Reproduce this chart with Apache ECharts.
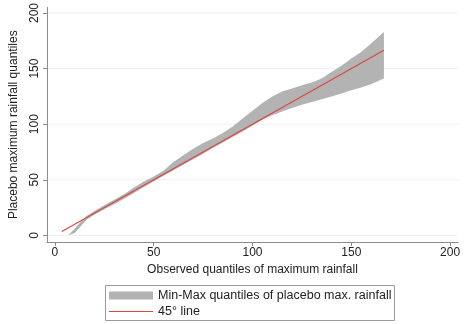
<!DOCTYPE html>
<html>
<head>
<meta charset="utf-8">
<script src="https://cdn.jsdelivr.net/npm/echarts@6/dist/echarts.min.js"></script>
<style>
  html, body { margin: 0; padding: 0; background: #fff; }
  #chart { width: 465px; height: 324px; }
</style>
</head>
<body>
<div id="chart"></div>
<script>
// Observed quantiles of maximum rainfall (x) with min / max placebo quantiles
var observedQ = [7, 10, 13, 16, 20, 25, 30, 35, 40, 45, 50, 55, 60, 65, 70, 75, 80, 85, 90, 95, 100, 105, 110, 115, 120, 125, 130, 135, 140, 145, 150, 155, 160, 166.5];
var placeboMin = [0, 2, 8, 14, 18.5, 23.5, 28, 33, 38, 43.5, 48.5, 53.5, 58.5, 63.5, 68.5, 73.5, 78.5, 83.5, 88.5, 93.5, 98.5, 104, 108, 111.5, 114.5, 117.5, 120, 122.5, 125, 127.5, 130.5, 133, 136, 141];
var placeboMax = [0.5, 6, 12, 17.5, 22, 27, 32, 37, 43, 48.5, 53, 58, 66, 72, 78, 83, 87, 92, 98, 105, 112, 119, 125, 129.5, 132, 135, 137.5, 141, 147, 152.5, 159, 165, 172.5, 183];
// 45-degree reference line endpoints
var refLine = [[3.5, 3.5], [166.5, 166.5]];
var xTicks = [0, 50, 100, 150, 200];
var yTicks = [0, 50, 100, 150, 200];

var bandName = 'Min-Max quantiles of placebo max. rainfall';
var lineName = '45\u00b0 line';

var bandData = observedQ.map(function (x, i) { return [x, placeboMin[i], placeboMax[i]]; });

var chart = echarts.init(document.getElementById('chart'), null, { renderer: 'canvas' });
var FONT = 'Liberation Sans, Arial, Helvetica, sans-serif';
var axisGray = '#8c8c8c';
var bandGray = '#b3b3b3';
var red = '#d8463e';
var legendText = { fontSize: 12.5, color: '#222', fontFamily: FONT };

chart.setOption({
  animation: false,
  textStyle: { fontFamily: FONT },
  grid: { left: 42, right: 7, top: 5, bottom: 82 },
  xAxis: {
    type: 'value', min: -4, max: 204,
    name: 'Observed quantiles of maximum rainfall',
    nameLocation: 'middle', nameGap: 21,
    nameTextStyle: { fontSize: 12, color: '#222', fontFamily: FONT },
    axisLine: { show: true, onZero: false, lineStyle: { color: axisGray, width: 1 } },
    axisTick: { show: true, length: 4, lineStyle: { color: axisGray }, customValues: xTicks },
    axisLabel: { fontSize: 12, color: '#222', margin: 5, customValues: xTicks, fontFamily: FONT },
    splitLine: { show: false }
  },
  yAxis: {
    type: 'value', min: -6, max: 205,
    name: 'Placebo maximum rainfall quantiles',
    nameLocation: 'middle', nameGap: 27, nameRotate: 90,
    nameTextStyle: { fontSize: 12, color: '#222', fontFamily: FONT },
    axisLine: { show: true, onZero: false, lineStyle: { color: axisGray, width: 1 } },
    axisTick: { show: true, length: 4, lineStyle: { color: axisGray }, customValues: yTicks },
    axisLabel: { fontSize: 12, color: '#222', rotate: 90, margin: 6, customValues: yTicks, fontFamily: FONT },
    splitLine: { show: false }
  },
  legend: [
    {
      left: 109, top: 289, padding: 0,
      itemWidth: 44, itemHeight: 8,
      textStyle: legendText,
      data: [{ name: bandName, icon: 'rect' }]
    },
    {
      left: 109, top: 305, padding: 0,
      itemWidth: 44, itemHeight: 1.2,
      textStyle: legendText,
      data: [{ name: lineName, icon: 'rect' }]
    }
  ],
  graphic: [{
    type: 'rect', left: 103, top: 283,
    shape: { width: 289, height: 35 },
    style: { fill: 'none', stroke: '#9a9a9a', lineWidth: 1 }
  }],
  series: [
    {
      // faint horizontal grid lines at the y ticks
      type: 'custom', silent: true, z: 1,
      data: yTicks.map(function (v) { return [v]; }),
      renderItem: function (params, api) {
        var y = api.coord([0, api.value(0)])[1];
        var x0 = params.coordSys.x, x1 = params.coordSys.x + params.coordSys.width;
        return { type: 'line', shape: { x1: x0 + 1, y1: y, x2: x1, y2: y }, style: { stroke: '#efefef', lineWidth: 1 } };
      }
    },
    {
      name: bandName,
      type: 'custom', z: 2,
      itemStyle: { color: bandGray },
      data: bandData,
      encode: { x: 0, y: [1, 2] },
      renderItem: function (params, api) {
        if (params.dataIndex !== 0) return null;
        var upper = [], lower = [];
        for (var i = 0; i < bandData.length; i++) {
          upper.push(api.coord([bandData[i][0], bandData[i][2]]));
          lower.push(api.coord([bandData[i][0], bandData[i][1]]));
        }
        var pts = upper.concat(lower.reverse());
        return { type: 'polygon', shape: { points: pts }, style: { fill: bandGray } };
      }
    },
    {
      name: lineName,
      type: 'line', z: 3,
      data: refLine,
      symbol: 'none', showSymbol: false,
      lineStyle: { color: red, width: 1.1 },
      itemStyle: { color: red }
    }
  ]
});
</script>
</body>
</html>
